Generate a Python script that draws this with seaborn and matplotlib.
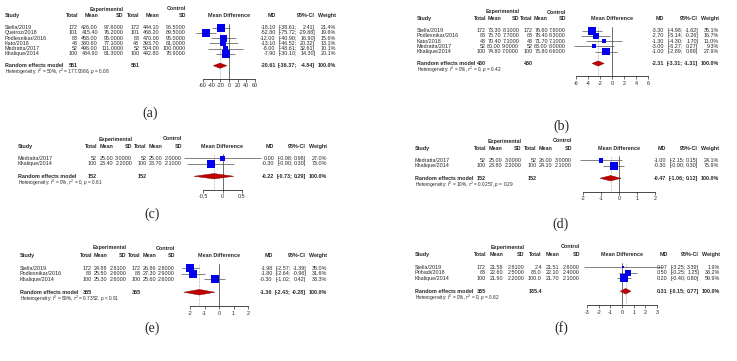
import numpy as np
import pandas as pd
import seaborn as sns
import matplotlib.pyplot as plt
from matplotlib.font_manager import FontProperties

# Data: study, exp total, exp mean, exp sd, ctrl total, ctrl mean, ctrl sd, MD, lower, upper, weight (%)
COLS = ["study", "n_e", "mean_e", "sd_e", "n_c", "mean_c", "sd_c", "md", "lo", "hi", "w"]

a_rows = [
    ("Stella/2019", 172, 426.00, 97.6, 172, 444.10, 96.5, -18.10, -38.61, 2.41, 21.4),
    ("Queiroz/2018", 101, 415.40, 76.2, 101, 468.20, 89.5, -52.80, -75.72, -29.88, 19.6),
    ("Podlesnikar/2016", 83, 458.00, 95.0, 83, 470.00, 95.0, -12.00, -40.90, 16.90, 15.6),
    ("Kato/2018", 43, 380.60, 77.1, 43, 393.70, 81.0, -13.10, -46.52, 20.32, 13.1),
    ("Medratta/2017", 52, 496.00, 111.0, 52, 504.00, 100.0, -8.00, -48.61, 32.61, 10.1),
    ("Khalique/2014", 100, 434.90, 81.3, 100, 442.80, 78.9, -7.90, -30.10, 14.30, 20.1),
]
a_pooled = (551, 551, -20.61, -36.37, -4.84)
a_het = ("50%", "177.0066", "= 0.08")
a_ticks = [-60, -40, -20, 0, 20, 40, 60]

b_rows = [
    ("Stella/2019", 172, 73.30, 8.1, 172, 76.60, 7.8, -3.30, -4.98, -1.62, 35.1),
    ("Podlesnikar/2016", 83, 75.70, 7.7, 83, 78.40, 8.3, -2.70, -5.14, -0.26, 16.7),
    ("Kato/2018", 43, 70.40, 7.1, 43, 71.70, 7.1, -1.30, -4.30, 1.70, 11.0),
    ("Medratta/2017", 52, 80.00, 9.0, 52, 83.00, 8.0, -3.00, -6.27, 0.27, 9.3),
    ("Khalique/2014", 100, 74.80, 7.0, 100, 75.80, 6.6, -1.00, -2.89, 0.89, 27.9),
]
b_pooled = (450, 450, -2.31, -3.31, -1.31)
b_het = ("0%", "0", "= 0.42")
b_ticks = [-6, -4, -2, 0, 2, 4, 6]

c_rows = [
    ("Medratta/2017", 52, 25.00, 3.0, 52, 25.00, 2.0, 0.00, -0.98, 0.98, 27.0),
    ("Khalique/2014", 100, 23.40, 2.2, 100, 23.70, 2.1, -0.30, -0.90, 0.30, 73.0),
]
c_pooled = (152, 152, -0.22, -0.73, 0.29)
c_het = ("0%", "0", "= 0.61")
c_ticks = [-0.5, 0, 0.5]

d_rows = [
    ("Medratta/2017", 52, 25.00, 3.0, 52, 26.00, 3.0, -1.00, -2.15, 0.15, 24.1),
    ("Khalique/2014", 100, 23.80, 2.2, 100, 24.10, 2.1, -0.30, -0.90, 0.30, 75.9),
]
d_pooled = (152, 152, -0.47, -1.06, 0.12)
d_het = ("10%", "0.0257", "= 0.29")
d_ticks = [-2, -1, 0, 1, 2]

e_rows = [
    ("Stella/2019", 172, 24.88, 2.81, 172, 26.86, 2.8, -1.98, -2.57, -1.39, 35.0),
    ("Podlesnikar/2016", 83, 25.50, 2.6, 83, 27.30, 2.9, -1.80, -2.64, -0.96, 31.6),
    ("Khalique/2014", 100, 25.30, 2.6, 100, 25.60, 2.6, -0.30, -1.02, 0.42, 33.3),
]
e_pooled = (355, 355, -1.36, -2.43, -0.28)
e_het = ("89%", "0.7352", "< 0.01")
e_ticks = [-2, -1, 0, 1, 2]

f_rows = [
    ("Stella/2019", 172, 21.58, 2.81, 2.4, 21.51, 2.6, 0.07, -3.25, 3.39, 1.9),
    ("Prihadi/2018", 83, 22.60, 2.5, 83.0, 22.10, 2.4, 0.50, -0.25, 1.25, 38.2),
    ("Khalique/2014", 100, 21.90, 2.2, 100.0, 21.70, 2.1, 0.20, -0.40, 0.80, 59.9),
]
f_pooled = (355, 185.4, 0.31, -0.15, 0.77)
f_het = ("0%", "0", "= 0.82")
f_ticks = [-3, -2, -1, 0, 1, 2, 3]

# Layout in pixels
LAYOUT = {
    "a": dict(x=5, y0=9, dy=5.2, n_right=78, sd_right=186, plot=(203, 255), w_right=336, label=(150, 113), nc_fmt="{:.0f}"),
    "b": dict(x=417, y0=12, dy=5.2, n_right=486, sd_right=566, plot=(576, 648), w_right=719, label=(561, 126), nc_fmt="{:.0f}"),
    "c": dict(x=18, y0=139, dy=5.4, n_right=97, sd_right=182, plot=(203, 242), w_right=327, label=(152, 214), nc_fmt="{:.0f}"),
    "d": dict(x=415, y0=141, dy=5.4, n_right=486, sd_right=572, plot=(583, 655), w_right=719, label=(561, 224), nc_fmt="{:.0f}"),
    "e": dict(x=20, y0=248, dy=5.6, n_right=92, sd_right=175, plot=(190, 248), w_right=327, label=(152, 328), nc_fmt="{:.0f}"),
    "f": dict(x=415, y0=247, dy=5.6, n_right=486, sd_right=580, plot=(587, 657), w_right=720, label=(561, 328), nc_fmt="{:.1f}"),
}
HEAD_LINE, FIRST_LINE, POOL_GAP, HET_GAP, AXIS_GAP = 1.3, 3.6, 2.3, 1.2, 1.3

sns.set_theme(style="white")
plt.rcParams["font.family"] = ["Liberation Sans", "DejaVu Sans"]
plt.rcParams["mathtext.fontset"] = "custom"
plt.rcParams["mathtext.rm"] = "Liberation Sans"
plt.rcParams["mathtext.it"] = "Liberation Sans:italic"

W, H = 737, 361
FS = 3.9
fig = plt.figure(figsize=(W / 100, H / 100), dpi=100)
bg = fig.add_axes([0, 0, 1, 1])
bg.set_xlim(0, W)
bg.set_ylim(H, 0)
bg.axis("off")
renderer = fig.canvas.get_renderer()


def tw(s, bold=False):
    prop = FontProperties(family="Liberation Sans", size=FS, weight="bold" if bold else "normal")
    return renderer.get_text_width_height_descent(s, prop, ismath=False)[0]


def put(x, y, s, ha="left", bold=False, size=FS, **kw):
    bg.text(x, y, s, ha=ha, va="center", fontsize=size,
            fontweight="bold" if bold else "normal", **kw)


def draw_panel(key, rows, pooled, het, ticks):
    lay = LAYOUT[key]
    df = pd.DataFrame(rows, columns=COLS)
    n = len(df)
    df["line"] = FIRST_LINE + np.arange(n)
    r_line = FIRST_LINE + n - 1 + POOL_GAP
    h_line = r_line + HET_GAP
    y0, dy = lay["y0"], lay["dy"]
    Y = lambda L: y0 + L * dy
    nfmt = "{:.0f}"
    cols = [
        (df.n_e.map(nfmt.format), nfmt.format(pooled[0]), "Total"),
        (df.mean_e.map("{:.2f}".format), None, "Mean"),
        (df.sd_e.map("{:.4f}".format), None, "SD"),
        (df.n_c.map(lay["nc_fmt"].format), lay["nc_fmt"].format(pooled[1]), "Total"),
        (df.mean_c.map("{:.2f}".format), None, "Mean"),
        (df.sd_c.map("{:.4f}".format), None, "SD"),
    ]
    widths = []
    for vals, pv, head in cols:
        ws = [tw(v) for v in vals] + [tw(head, True)]
        if pv is not None:
            ws.append(tw(pv, True))
        widths.append(max(ws))
    gap = (lay["sd_right"] - lay["n_right"] - sum(widths[1:])) / 5
    rights = [lay["n_right"]]
    for w in widths[1:]:
        rights.append(rights[-1] + gap + w)

    # left block
    put(lay["x"], Y(HEAD_LINE), "Study", bold=True)
    put(rights[2], Y(0), "Experimental", ha="right", bold=True)
    put(rights[5], Y(0), "Control", ha="right", bold=True)
    for (vals, pv, head), xr in zip(cols, rights):
        put(xr, Y(HEAD_LINE), head, ha="right", bold=True)
        for v, L in zip(vals, df.line):
            put(xr, Y(L), v, ha="right")
        if pv is not None:
            put(xr, Y(r_line), pv, ha="right", bold=True)
    for s, L in zip(df.study, df.line):
        put(lay["x"], Y(L), s)
    put(lay["x"], Y(r_line), "Random effects model", bold=True)
    put(lay["x"], Y(h_line),
        r"Heterogeneity: $I^2$ = %s, $\tau^2$ = %s, $p$ %s" % het, size=FS * 0.88)

    # right block
    md, lo, hi = pooled[2:]
    w_txt = list(df.w.map("{:.1f}%".format))
    w_w = max([tw(s) for s in w_txt] + [tw("Weight", True), tw("100.0%", True)])
    hi_txt = list(df.hi.map("{:.2f}]".format))
    lo_txt = list(df.lo.map("[{:.2f};".format))
    md_txt = list(df.md.map("{:.2f}".format))
    ci_right = lay["w_right"] - w_w - 2.5
    hi_w = max([tw(s) for s in hi_txt] + [tw("%.2f]" % hi, True)])
    ci_mid = ci_right - hi_w - 1.2
    lo_w = max([tw(s) for s in lo_txt] + [tw("[%.2f;" % lo, True)])
    md_right = ci_mid - lo_w - 2.5
    put(md_right, Y(HEAD_LINE), "MD", ha="right", bold=True)
    put(ci_right, Y(HEAD_LINE), "95%-CI", ha="right", bold=True)
    put(lay["w_right"], Y(HEAD_LINE), "Weight", ha="right", bold=True)
    for L, a, b, c, d in zip(df.line, md_txt, lo_txt, hi_txt, w_txt):
        put(md_right, Y(L), a, ha="right")
        put(ci_mid, Y(L), b, ha="right")
        put(ci_right, Y(L), c, ha="right")
        put(lay["w_right"], Y(L), d, ha="right")
    put(md_right, Y(r_line), "%.2f" % md, ha="right", bold=True)
    put(ci_mid, Y(r_line), "[%.2f;" % lo, ha="right", bold=True)
    put(ci_right, Y(r_line), "%.2f]" % hi, ha="right", bold=True)
    put(lay["w_right"], Y(r_line), "100.0%", ha="right", bold=True)

    # forest plot
    px0, px1 = lay["plot"]
    put((px0 + px1) / 2, Y(HEAD_LINE), "Mean Difference", ha="center", bold=True)
    L_top, L_axis = FIRST_LINE - 0.8, h_line + AXIS_GAP
    ax = fig.add_axes([px0 / W, 1 - Y(L_axis) / H, (px1 - px0) / W, (Y(L_axis) - Y(L_top)) / H])
    ax.set_facecolor("none")
    ax.axvline(0, color="#333333", lw=0.5, zorder=1)
    ax.axvline(md, color="0.6", lw=0.5, ls=(0, (1, 1)), zorder=1)
    ax.hlines(df.line, df.lo, df.hi, color="#505050", lw=0.5, zorder=2, clip_on=False)
    sns.scatterplot(data=df, x="md", y="line", size="w", sizes=(0, 34),
                    size_norm=(0, df.w.max()), marker="s", color="#0000ee",
                    linewidth=0, legend=False, ax=ax, zorder=3, clip_on=False)
    ax.fill([lo, md, hi, md], [r_line, r_line - 0.5, r_line, r_line + 0.5],
            color="#c00000", ec="#7a0000", lw=0.3, zorder=3, clip_on=False)
    ax.set_xlim(ticks[0], ticks[-1])
    ax.set_ylim(L_axis, L_top)
    ax.set_xlabel("")
    ax.set_ylabel("")
    ax.set_yticks([])
    ax.set_xticks(ticks)
    ax.set_xticklabels([f"{t:g}" for t in ticks])
    sns.despine(ax=ax, left=True)
    ax.spines["bottom"].set_linewidth(0.5)
    ax.spines["bottom"].set_color("black")
    ax.tick_params(axis="x", length=2, width=0.4, labelsize=FS, pad=1.2,
                   color="black", bottom=True)

    lx, ly = lay["label"]
    bg.text(lx, ly, "(%s)" % key, ha="center", va="center", fontsize=10,
            family=["Liberation Serif", "DejaVu Serif"])


draw_panel("a", a_rows, a_pooled, a_het, a_ticks)
draw_panel("b", b_rows, b_pooled, b_het, b_ticks)
draw_panel("c", c_rows, c_pooled, c_het, c_ticks)
draw_panel("d", d_rows, d_pooled, d_het, d_ticks)
draw_panel("e", e_rows, e_pooled, e_het, e_ticks)
draw_panel("f", f_rows, f_pooled, f_het, f_ticks)

fig.savefig("out.png", dpi=100)
